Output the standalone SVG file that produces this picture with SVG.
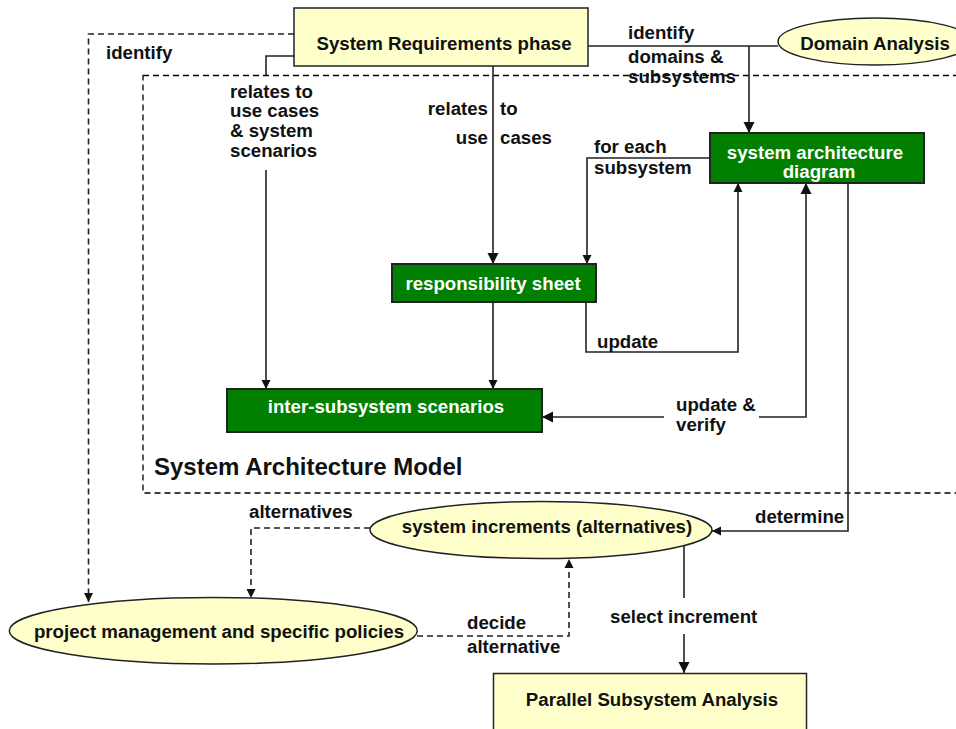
<svg xmlns="http://www.w3.org/2000/svg" width="956" height="729" viewBox="0 0 956 729">
<style>
text{font-family:"Liberation Sans",Arial,sans-serif;font-weight:bold;font-size:18.67px;fill:#111}
.w{fill:#fff}
.m{text-anchor:middle}
.e{text-anchor:end}
.big{font-size:24px}
.yel{fill:#ffffcc;stroke:#222;stroke-width:1.5}
.grn{fill:#007f00;stroke:#222;stroke-width:2}
.c{fill:none;stroke:#222;stroke-width:1.6}
.d{fill:none;stroke:#222;stroke-width:1.6;stroke-dasharray:6 4}
.box{fill:none;stroke:#000;stroke-width:1.3;stroke-dasharray:6 4}
</style>
<defs>
<marker id="ah" markerUnits="userSpaceOnUse" markerWidth="12" markerHeight="12" refX="11" refY="6" orient="auto">
<path d="M0,0.5 L11,6 L0,11.5 z" fill="#111"/>
</marker>
<marker id="ahs" markerUnits="userSpaceOnUse" markerWidth="10" markerHeight="10" refX="9" refY="5" orient="auto">
<path d="M0,0.5 L9,5 L0,9.5 z" fill="#111"/>
</marker>
</defs>

<g id="container">
<rect class="box" x="143" y="75.5" width="900" height="417.5"/>
<text class="big" x="154" y="475">System Architecture Model</text>
</g>

<g id="connectors">
<path class="d" d="M294,34 H88.5 V602" marker-end="url(#ahs)"/>
<path class="c" d="M294,56 H266 V75"/>
<path class="c" d="M266,170 V389" marker-end="url(#ahs)"/>
<path class="c" d="M493,66 V264" marker-end="url(#ah)"/>
<path class="c" d="M588,46 H778"/>
<path class="c" d="M749,46 V133" marker-end="url(#ah)"/>
<path class="c" d="M710,158 H587 V264" marker-end="url(#ahs)"/>
<path class="c" d="M586,302 V352 H738 V183" marker-end="url(#ahs)"/>
<path class="c" d="M493,302 V389" marker-end="url(#ahs)"/>
<path class="c" d="M759,417 H806 V183" marker-end="url(#ah)"/>
<path class="c" d="M664,417 H542" marker-end="url(#ah)"/>
<path class="c" d="M848,183 V531 H712" marker-end="url(#ahs)"/>
<path class="d" d="M370,528 H251 V598" marker-end="url(#ahs)"/>
<path class="d" d="M417,636 H569 V559" marker-end="url(#ahs)"/>
<path class="c" d="M684,545 V598"/>
<path class="c" d="M684,634 V673" marker-end="url(#ah)"/>
<text x="106" y="59">identify</text>
<text x="230" y="97.7">relates to</text>
<text x="230" y="117">use cases</text>
<text x="230" y="136.5">&amp; system</text>
<text x="230" y="156.5">scenarios</text>
<text class="e" x="488" y="115">relates</text>
<text x="500" y="115">to</text>
<text class="e" x="488" y="144">use</text>
<text x="500" y="144">cases</text>
<text x="628" y="39">identify</text>
<text x="628" y="63">domains &amp;</text>
<text x="628" y="83">subsystems</text>
<text x="594" y="153">for each</text>
<text x="594" y="174">subsystem</text>
<text x="597" y="348">update</text>
<text x="676" y="411">update &amp;</text>
<text x="676" y="431">verify</text>
<text x="249" y="518">alternatives</text>
<text x="755" y="523">determine</text>
<text x="467" y="629">decide</text>
<text x="467" y="653">alternative</text>
<text x="610" y="623">select increment</text>
</g>

<g id="sysreq">
<rect class="yel" x="294" y="8" width="294" height="58"/>
<text class="m" x="444" y="50">System Requirements phase</text>
</g>

<g id="domain">
<ellipse class="yel" cx="875" cy="41.5" rx="97" ry="23.5"/>
<text class="m" x="875" y="50">Domain Analysis</text>
</g>

<g id="sysarch">
<rect class="grn" x="710" y="133" width="214" height="50"/>
<text class="m w" x="815" y="159">system architecture</text>
<text class="m w" x="819" y="178">diagram</text>
</g>

<g id="resp">
<rect class="grn" x="392" y="264" width="204" height="38"/>
<text class="m w" x="493" y="290">responsibility sheet</text>
</g>

<g id="inter">
<rect class="grn" x="227" y="389" width="315" height="43"/>
<text class="m w" x="386" y="413">inter-subsystem scenarios</text>
</g>

<g id="increments">
<ellipse class="yel" cx="541" cy="530" rx="171" ry="28.5"/>
<text class="m" x="547" y="533">system increments (alternatives)</text>
</g>

<g id="pm">
<ellipse class="yel" cx="213.3" cy="630.7" rx="204" ry="33.3"/>
<text class="m" x="219" y="638">project management and specific policies</text>
</g>

<g id="parallel">
<rect class="yel" x="493.5" y="673.5" width="313" height="70"/>
<text class="m" x="652" y="706">Parallel Subsystem Analysis</text>
</g>
</svg>
